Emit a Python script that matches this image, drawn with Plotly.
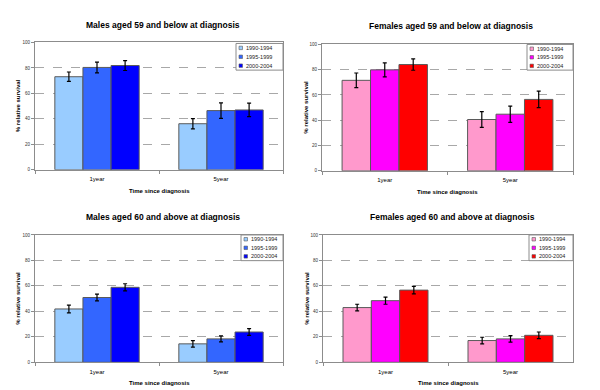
import plotly.graph_objects as go

W, H = 600, 390

categories = ["1year", "5year"]
periods = ["1990-1994", "1995-1999", "2000-2004"]

male_colors = ["#99CCFF", "#3366FF", "#0000FF"]
female_colors = ["#FF99CC", "#FF00FF", "#FF0000"]

titles = [
    "Males aged 59 and below at diagnosis",
    "Females aged 59 and below at diagnosis",
    "Males aged 60 and above at diagnosis",
    "Females aged 60 and above at diagnosis",
]

# survival values (%) per period, for [1year, 5year]
male_young_1990 = [73.1, 36.2]
male_young_1995 = [80.4, 46.5]
male_young_2000 = [81.9, 47.0]
male_young_err_1990 = [3.7, 4.0]
male_young_err_1995 = [4.2, 6.1]
male_young_err_2000 = [3.9, 5.3]

female_young_1990 = [71.6, 40.6]
female_young_1995 = [79.9, 44.8]
female_young_2000 = [84.1, 56.5]
female_young_err_1990 = [5.8, 6.2]
female_young_err_1995 = [5.5, 6.4]
female_young_err_2000 = [4.5, 6.5]

male_old_1990 = [41.9, 14.5]
male_old_1995 = [50.9, 18.4]
male_old_2000 = [58.9, 23.8]
male_old_err_1990 = [3.0, 2.6]
male_old_err_1995 = [2.7, 2.3]
male_old_err_2000 = [2.8, 2.7]

female_old_1990 = [43.0, 17.1]
female_old_1995 = [48.4, 18.4]
female_old_2000 = [56.7, 21.2]
female_old_err_1990 = [2.6, 2.6]
female_old_err_1995 = [2.8, 2.6]
female_old_err_2000 = [2.9, 2.6]

y_ticks = [0, 20, 40, 60, 80, 100]

panels = [
    dict(vals=[male_young_1990, male_young_1995, male_young_2000],
         errs=[male_young_err_1990, male_young_err_1995, male_young_err_2000],
         colors=male_colors,
         plot=(35, 41, 283, 170), legend=(236, 42, 283, 69),
         title_xy=(163, 23), ytitle_x=18, xtitle_y=191),
    dict(vals=[female_young_1990, female_young_1995, female_young_2000],
         errs=[female_young_err_1990, female_young_err_1995, female_young_err_2000],
         colors=female_colors,
         plot=(322, 43, 573, 171), legend=(527, 43, 573, 69),
         title_xy=(451, 24), ytitle_x=306, xtitle_y=192),
    dict(vals=[male_old_1990, male_old_1995, male_old_2000],
         errs=[male_old_err_1990, male_old_err_1995, male_old_err_2000],
         colors=male_colors,
         plot=(35, 236, 283, 365), legend=(241, 236, 283, 262),
         title_xy=(163, 218), ytitle_x=18, xtitle_y=385.5),
    dict(vals=[female_old_1990, female_old_1995, female_old_2000],
         errs=[female_old_err_1990, female_old_err_1995, female_old_err_2000],
         colors=female_colors,
         plot=(323, 236, 573, 365), legend=(529, 236, 573, 262),
         title_xy=(452, 218), ytitle_x=307, xtitle_y=385.5),
]

FONT = "Arial, Liberation Sans, sans-serif"

def px(x):
    return x / W

def py(y):
    return 1 - y / H

fig = go.Figure()
layout = dict(
    width=W, height=H,
    margin=dict(l=0, r=0, t=0, b=0),
    paper_bgcolor="white", plot_bgcolor="white",
    barmode="group", bargap=0.32, bargroupgap=0,
    showlegend=False,
    font=dict(family=FONT, color="black"),
)
shapes = []
annotations = []

for i, p in enumerate(panels):
    n = "" if i == 0 else str(i + 1)
    xa, ya = "x" + n, "y" + n
    for k in range(3):
        fig.add_trace(go.Bar(
            x=categories, y=p["vals"][k], name=periods[k],
            marker=dict(color=p["colors"][k], line=dict(color="#5A5A5A", width=1)),
            error_y=dict(type="data", array=p["errs"][k], color="black", thickness=1.2, width=2),
            xaxis=xa, yaxis=ya,
        ))
    x0, y0, x1, y1 = p["plot"]
    layout["xaxis" + n] = dict(
        domain=[px(x0), px(x1)], anchor=ya,
        showline=True, linecolor="#8C8C8C", linewidth=1, mirror=True,
        ticks="outside", ticklen=3, tickcolor="#8C8C8C", tickson="boundaries",
        ticklabelstandoff=3,
        tickfont=dict(size=6, family=FONT, color="black"),
        showgrid=False, fixedrange=True,
    )
    layout["yaxis" + n] = dict(
        domain=[py(y1), py(y0)], anchor=xa,
        range=[0, 100], tickvals=y_ticks,
        showline=True, linecolor="#8C8C8C", linewidth=1, mirror=True,
        ticks="outside", ticklen=3, tickcolor="#8C8C8C",
        tickfont=dict(size=4.5, family=FONT, color="#333333"),
        showgrid=True, gridcolor="#A8A8A8", griddash="dash", gridwidth=1,
        zeroline=False, fixedrange=True,
    )
    # titles
    tx, ty = p["title_xy"]
    annotations.append(dict(xref="paper", yref="paper", x=px(tx), y=py(ty),
                            text="<b>" + titles[i] + "</b>", showarrow=False,
                            font=dict(size=8.5, family=FONT, color="black"),
                            xanchor="center", yanchor="middle"))
    annotations.append(dict(xref="paper", yref="paper", x=px(p["ytitle_x"]), y=py((y0 + y1) / 2),
                            text="<b>% relative survival</b>", showarrow=False, textangle=-90,
                            font=dict(size=6, family=FONT, color="black"),
                            xanchor="center", yanchor="middle"))
    annotations.append(dict(xref="paper", yref="paper", x=px((x0 + x1) / 2), y=py(p["xtitle_y"]),
                            text="<b>Time since diagnosis</b>", showarrow=False,
                            font=dict(size=6, family=FONT, color="black"),
                            xanchor="center", yanchor="middle"))
    # manual legend
    lx0, ly0, lx1, ly1 = p["legend"]
    shapes.append(dict(type="rect", xref="paper", yref="paper",
                       x0=px(lx0), x1=px(lx1), y0=py(ly1), y1=py(ly0),
                       fillcolor="white", line=dict(color="#8C8C8C", width=1)))
    step = (ly1 - ly0) / 3
    for k in range(3):
        cy = ly0 + step * (k + 0.5)
        sx = lx0 + 3
        shapes.append(dict(type="rect", xref="paper", yref="paper",
                           x0=px(sx), x1=px(sx + 3.5), y0=py(cy + 1.75), y1=py(cy - 1.75),
                           fillcolor=p["colors"][k], line=dict(color="#5A5A5A", width=0.6)))
        annotations.append(dict(xref="paper", yref="paper", x=px(sx + 4.5), y=py(cy),
                                text=periods[k], showarrow=False,
                                font=dict(size=5.5, family=FONT, color="#222222"),
                                xanchor="left", yanchor="middle"))

layout["shapes"] = shapes
layout["annotations"] = annotations
fig.update_layout(**layout)
fig.write_html("out.html", config={"displayModeBar": False},
               post_script="document.body.style.margin='0px';document.body.style.padding='0px';")
